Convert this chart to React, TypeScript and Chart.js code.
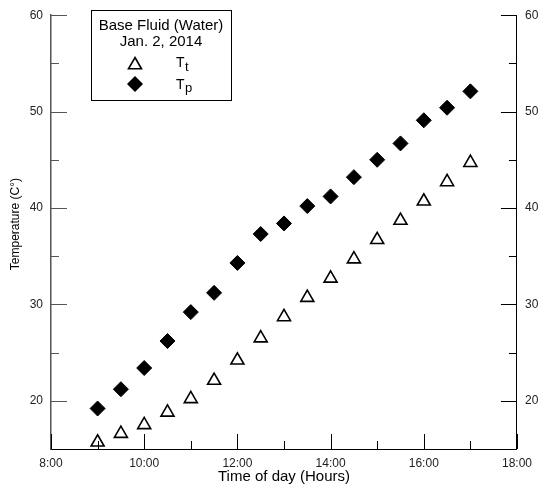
import React, { useEffect, useRef } from 'react';
import { Chart, registerables } from 'chart.js';

Chart.register(...registerables);

// Time of day (hours) and measured temperatures (°C)
const hours = [9, 9.5, 10, 10.5, 11, 11.5, 12, 12.5, 13, 13.5, 14, 14.5, 15, 15.5, 16, 16.5, 17];
const tpValues = [19.2, 21.2, 23.4, 26.2, 29.2, 31.2, 34.3, 37.3, 38.4, 40.2, 41.2, 43.2, 45.0, 46.7, 49.1, 50.4, 52.1];
const ttValues = [15.7, 16.6, 17.5, 18.8, 20.2, 22.1, 24.2, 26.5, 28.7, 30.7, 32.7, 34.7, 36.7, 38.7, 40.7, 42.7, 44.7];

// Axis ranges and tick positions
const xRange = [8, 18];
const yRange = [15, 60];
const xMajorTicks = [8, 10, 12, 14, 16, 18];
const xMinorTicks = [9, 11, 13, 15, 17];
const yMajorTicks = [20, 30, 40, 50, 60];
const yMinorTicks = [25, 35, 45, 55];

const legendHeader = ['Base Fluid (Water)', 'Jan. 2, 2014'];
const xTitle = 'Time of day (Hours)';
const yTitle = 'Temperature (C°)';

const FONT = '"Liberation Sans", Arial, Helvetica, sans-serif';

function trianglePath(ctx: CanvasRenderingContext2D, x: number, y: number, r: number) {
  ctx.beginPath();
  ctx.moveTo(x, y - r);
  ctx.lineTo(x + r * Math.sin((2 * Math.PI) / 3), y - r * Math.cos((2 * Math.PI) / 3));
  ctx.lineTo(x + r * Math.sin((4 * Math.PI) / 3), y - r * Math.cos((4 * Math.PI) / 3));
  ctx.closePath();
}

// Inward-pointing major/minor tick marks on left, right and bottom axes
const inwardTicks = {
  id: 'inwardTicks',
  afterDatasetsDraw(chart: any) {
    const { ctx, chartArea, scales } = chart;
    const { left, right, bottom } = chartArea;
    const x = scales.x;
    const y = scales.y;
    ctx.save();
    ctx.lineWidth = 1;
    ctx.strokeStyle = '#000';
    const seg = (x1: number, y1: number, x2: number, y2: number) => {
      ctx.beginPath();
      ctx.moveTo(x1, y1);
      ctx.lineTo(x2, y2);
      ctx.stroke();
    };
    xMajorTicks.forEach((v) => {
      const px = Math.round(x.getPixelForValue(v)) + 0.5;
      seg(px, bottom, px, bottom - 15);
    });
    xMinorTicks.forEach((v) => {
      const px = Math.round(x.getPixelForValue(v)) + 0.5;
      seg(px, bottom, px, bottom - 8);
    });
    yMajorTicks.forEach((v) => {
      const py = Math.round(y.getPixelForValue(v)) + 0.5;
      ctx.strokeStyle = '#555';
      seg(left, py, left + 16, py);
      ctx.strokeStyle = '#000';
      seg(right, py, right - 16, py);
    });
    yMinorTicks.forEach((v) => {
      const py = Math.round(y.getPixelForValue(v)) + 0.5;
      ctx.strokeStyle = '#555';
      seg(left, py, left + 8, py);
      ctx.strokeStyle = '#000';
      seg(right, py, right - 8, py);
    });
    ctx.restore();
  },
};

// Boxed legend with header lines and the two symbols
const boxedLegend = {
  id: 'boxedLegend',
  afterDraw(chart: any) {
    const ctx: CanvasRenderingContext2D = chart.ctx;
    const { left, top, bottom } = chart.chartArea;
    ctx.save();
    // y-axis title
    ctx.save();
    ctx.translate(16, (top + bottom) / 2 - 8);
    ctx.rotate(-Math.PI / 2);
    ctx.font = `12px ${FONT}`;
    ctx.fillStyle = '#000';
    ctx.textAlign = 'center';
    ctx.textBaseline = 'middle';
    ctx.fillText(yTitle, 0, 0);
    ctx.restore();

    const bx = 91.5;
    const by = 10.5;
    ctx.strokeStyle = '#000';
    ctx.lineWidth = 1;
    ctx.fillStyle = '#fff';
    ctx.fillRect(bx, by, 140, 90);
    ctx.strokeRect(bx, by, 140, 90);

    ctx.fillStyle = '#000';
    ctx.font = `15px ${FONT}`;
    ctx.textAlign = 'center';
    ctx.textBaseline = 'middle';
    ctx.fillText(legendHeader[0], 161, 26);
    ctx.fillText(legendHeader[1], 161, 42);

    // triangle symbol
    trianglePath(ctx, 135, 65, 7.5);
    ctx.fillStyle = '#fff';
    ctx.fill();
    ctx.lineWidth = 1.6;
    ctx.strokeStyle = '#000';
    ctx.stroke();
    // diamond symbol
    ctx.beginPath();
    ctx.moveTo(135 - 8, 84);
    ctx.lineTo(135, 84 - 8);
    ctx.lineTo(135 + 8, 84);
    ctx.lineTo(135, 84 + 8);
    ctx.closePath();
    ctx.fillStyle = '#000';
    ctx.fill();

    ctx.textAlign = 'left';
    ctx.textBaseline = 'alphabetic';
    ctx.font = `14px ${FONT}`;
    ctx.fillText('T', 176, 67);
    ctx.font = `13px ${FONT}`;
    ctx.fillText('t', 185, 71);
    ctx.font = `14px ${FONT}`;
    ctx.fillText('T', 176, 89);
    ctx.font = `13px ${FONT}`;
    ctx.fillText('p', 185, 92);
    ctx.restore();
    void left;
  },
};

export default function App() {
  const canvasRef = useRef<HTMLCanvasElement | null>(null);

  useEffect(() => {
    if (!canvasRef.current) return;
    Chart.defaults.font.family = FONT;

    const chart = new Chart(canvasRef.current, {
      type: 'scatter',
      data: {
        datasets: [
          {
            label: 'Tt',
            data: hours.map((h, i) => ({ x: h, y: ttValues[i] })),
            pointStyle: 'triangle',
            pointRadius: 7.5,
            pointHoverRadius: 7.5,
            pointBackgroundColor: '#fff',
            pointBorderColor: '#000',
            pointBorderWidth: 1.6,
            showLine: false,
          },
          {
            label: 'Tp',
            data: hours.map((h, i) => ({ x: h, y: tpValues[i] })),
            pointStyle: 'rectRot',
            pointRadius: 7.5,
            pointHoverRadius: 7.5,
            pointBackgroundColor: '#000',
            pointBorderColor: '#000',
            pointBorderWidth: 1,
            showLine: false,
          },
        ],
      },
      options: {
        responsive: false,
        animation: false,
        events: [],
        layout: { padding: { top: 15, left: 0, right: 0, bottom: 0 } },
        plugins: {
          legend: { display: false },
          tooltip: { enabled: false },
        },
        scales: {
          x: {
            type: 'linear',
            position: 'bottom',
            min: xRange[0],
            max: xRange[1],
            afterBuildTicks: (scale: any) => {
              scale.ticks = xMajorTicks.map((v) => ({ value: v }));
            },
            afterFit: (scale: any) => {
              scale.height = 37;
            },
            ticks: {
              padding: 7,
              color: '#222',
              font: { size: 12, family: FONT },
              maxRotation: 0,
              callback: (v: any) => `${v}:00`,
            },
            grid: { display: false, drawTicks: false },
            border: { display: true, color: '#000', width: 1 },
            title: {
              display: true,
              text: xTitle,
              color: '#000',
              font: { size: 15, family: FONT },
              padding: { top: 0, bottom: 0 },
            },
          },
          y: {
            type: 'linear',
            position: 'left',
            min: yRange[0],
            max: yRange[1],
            afterBuildTicks: (scale: any) => {
              scale.ticks = yMajorTicks.map((v) => ({ value: v }));
            },
            afterFit: (scale: any) => {
              scale.width = 51;
            },
            ticks: {
              padding: 8,
              color: '#222',
              font: { size: 12, family: FONT },
            },
            grid: { display: false, drawTicks: false },
            border: { display: true, color: '#555', width: 1.5 },
          },
          y2: {
            type: 'linear',
            position: 'right',
            min: yRange[0],
            max: yRange[1],
            afterBuildTicks: (scale: any) => {
              scale.ticks = yMajorTicks.map((v) => ({ value: v }));
            },
            afterFit: (scale: any) => {
              scale.width = 22;
            },
            ticks: {
              padding: 8,
              color: '#222',
              font: { size: 12, family: FONT },
            },
            grid: { display: false, drawTicks: false },
            border: { display: true, color: '#000', width: 1 },
          },
        },
      },
      plugins: [inwardTicks, boxedLegend],
    } as any);

    return () => chart.destroy();
  }, []);

  return (
    <div style={{ position: 'absolute', left: 0, top: 0, width: 539, height: 486, background: '#fff' }}>
      <canvas ref={canvasRef} width={539} height={486} />
    </div>
  );
}
